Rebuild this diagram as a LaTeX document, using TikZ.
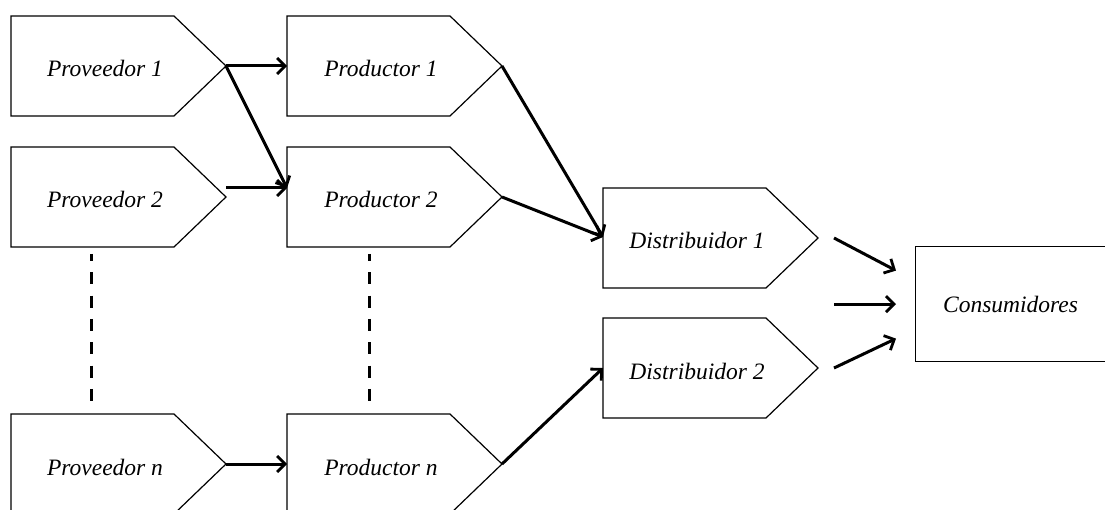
\documentclass[tikz,border=0pt]{standalone}
\usepackage{fontspec}
\setmainfont{Liberation Serif}
\usetikzlibrary{arrows.meta,calc}

% pentagon-shaped stage box: name, left x, top y, label
\newcommand\stagebox[4]{%
  \draw[outline] (#2,#3) -- ++(163,0) -- ++(52,50) -- ++(-52,50) -- ++(-163,0) -- cycle;
  \path (#2,#3) ++(215,50) coordinate (#1-tip);
  \path (#2,#3) ++(0,50) coordinate (#1-in);
  \path (#2,#3) ++(94,61) node[lbl] (#1) {#4};
}

\begin{document}
\begin{tikzpicture}[x=1pt,y=-1pt,
  outline/.style={draw=black,line width=1.2pt,line join=miter},
  flow/.style={line width=3pt,-{Straight Barb[length=8pt,width=16pt,line width=2.8pt]}},
  dots/.style={line width=3pt,dash pattern=on 12pt off 11.3pt,dash phase=5pt},
  lbl/.style={font=\itshape\fontsize{23.5}{28}\selectfont,anchor=base,inner sep=0pt}]
\useasboundingbox (0,0) rectangle (1105,510);
\clip (0,0) rectangle (1105,510);

% suppliers
\stagebox{P1}{11}{16}{Proveedor 1}
\stagebox{P2}{11}{147}{Proveedor 2}
\stagebox{Pn}{11}{414}{Proveedor n}
% producers
\stagebox{R1}{287}{16}{Productor 1}
\stagebox{R2}{287}{147}{Productor 2}
\stagebox{Rn}{287}{414}{Productor n}
% distributors
\stagebox{D1}{603}{188}{Distribuidor 1}
\stagebox{D2}{603}{318}{Distribuidor 2}
% consumers
\node[outline,anchor=north west,minimum width=195pt,minimum height=115pt,
      inner sep=0pt,font=\itshape\fontsize{23.5}{28}\selectfont,
      text width=195pt,align=center] (C) at (915,246) {\hspace*{-5pt}Consumidores};

% ellipsis between the second and the last row
\coordinate (PdotA) at (91,254);
\coordinate (PdotB) at (91,402);
\coordinate (RdotA) at (369,254);
\coordinate (RdotB) at (369,402);
\draw[dots] (PdotA) -- (PdotB);
\draw[dots] (RdotA) -- (RdotB);

% flows
\draw[flow] (P1-tip) -- (R1-in);
\draw[flow] (P1-tip) -- ($(R2-in)+(0,-9)$);
\draw[flow] ($(P2-tip)+(0,-9)$) -- ($(R2-in)+(0,-9)$);
\draw[flow] (Pn-tip) -- (Rn-in);
\draw[flow] (R1-tip) -- ($(D1-in)+(0,-1)$);
\draw[flow] (R2-tip) -- ($(D1-in)+(0,-1)$);
\draw[flow] (Rn-tip) -- (D2-in);
\draw[flow] ($(D1-tip)+(16,0)$) -- ($(C.west)+(-19,-33.5)$);
\draw[flow] ($(C.west)+(-81,0)$) -- ($(C.west)+(-19,0)$);
\draw[flow] ($(D2-tip)+(16,0)$) -- ($(C.west)+(-19,34.5)$);
\end{tikzpicture}
\end{document}
